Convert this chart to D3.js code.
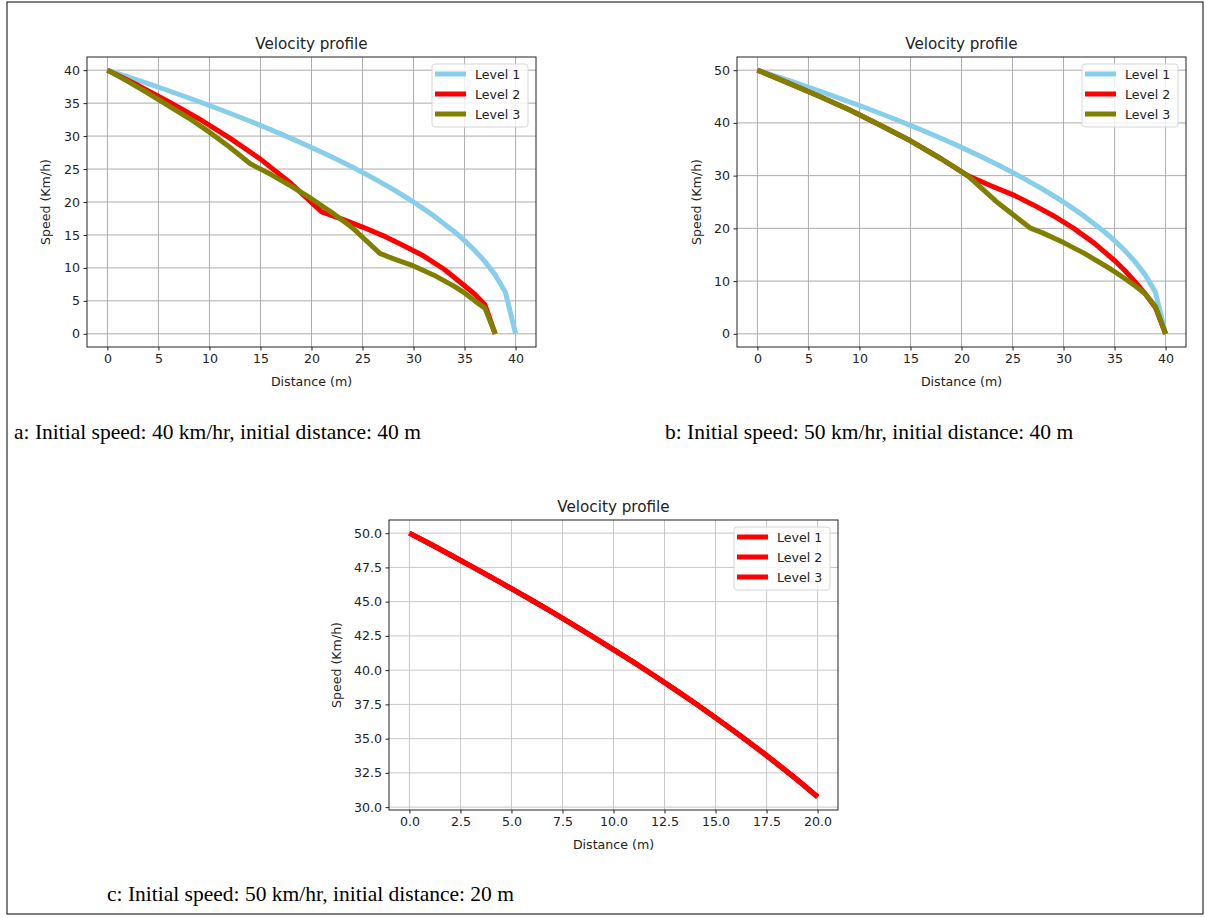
<!DOCTYPE html>
<html>
<head>
<meta charset="utf-8">
<script src="https://cdn.jsdelivr.net/npm/d3@7"></script>
<style>
  body { margin: 0; background: #fff; }
  svg { display: block; }
  text { font-family: "DejaVu Sans", sans-serif; fill: #222; }
  .caption { font-family: "Liberation Serif", "Times New Roman", serif; fill: #000; }
</style>
</head>
<body>
<svg width="1206" height="918"></svg>
<script>
// ---- data ----
let levelNames = ["Level 1", "Level 2", "Level 3"];

// a: 40 km/h, 40 m
let distA1 = [0, 2, 4, 6, 8, 10, 12, 14, 16, 18, 20, 22, 24, 26, 28, 30, 32, 34, 35, 36, 37, 38, 39, 40];
let speedA1 = [40, 38.99, 37.95, 36.88, 35.78, 34.64, 33.47, 32.25, 30.98, 29.66, 28.28, 26.83, 25.3, 23.66, 21.91, 20.0, 17.89, 15.49, 14.14, 12.65, 10.95, 8.94, 6.32, 0];
let distA2 = [0, 3, 6, 9, 12, 15, 18, 21, 23, 25, 27, 29, 31, 33, 35, 36, 37, 38];
let speedA2 = [40, 37.7, 35.2, 32.6, 29.7, 26.5, 22.8, 18.5, 17.4, 16.2, 14.9, 13.4, 11.8, 9.8, 7.3, 6.0, 4.4, 0];
let distA3 = [0, 2, 4, 6, 8, 10, 12, 14, 16, 18, 20, 22, 24, 26.7, 28, 30, 32, 34, 35, 36, 37, 38];
let speedA3 = [40, 38.3, 36.5, 34.6, 32.7, 30.6, 28.3, 25.8, 24.2, 22.4, 20.5, 18.4, 16.1, 12.2, 11.4, 10.3, 8.9, 7.2, 6.2, 5.0, 3.9, 0];

// b: 50 km/h, 40 m
let distB1 = [0, 2, 4, 6, 8, 10, 12, 14, 16, 18, 20, 22, 24, 26, 28, 30, 32, 34, 35, 36, 37, 38, 39, 40];
let speedB1 = [50, 48.73, 47.43, 46.1, 44.72, 43.3, 41.83, 40.31, 38.73, 37.08, 35.36, 33.54, 31.62, 29.58, 27.39, 25.0, 22.36, 19.36, 17.68, 15.81, 13.69, 11.18, 7.91, 0];
let distB2 = [0, 3, 6, 9, 12, 15, 18, 20.6, 23, 25, 27, 29, 31, 33, 35, 36, 37, 38, 39, 40];
let speedB2 = [50, 47.6, 45.1, 42.5, 39.6, 36.6, 33.2, 30.0, 28.0, 26.4, 24.5, 22.4, 20.0, 17.2, 13.9, 12.0, 9.9, 7.6, 5.0, 0];
let distB3 = [0, 3, 6, 9, 12, 15, 18, 20.6, 23.4, 26.7, 28, 30, 32, 34, 35, 36, 37, 38, 39, 40];
let speedB3 = [50, 47.6, 45.1, 42.5, 39.6, 36.6, 33.2, 30.0, 25.1, 20.1, 19.1, 17.3, 15.3, 13.0, 11.8, 10.5, 9.1, 7.6, 5.2, 0];

// c: 50 km/h, 20 m (all three levels coincide)
let distC = [0, 1, 2, 3, 4, 5, 6, 7, 8, 9, 10, 11, 12, 13, 14, 15, 16, 17, 18, 19, 20];
let speedC = [50.0, 49.22, 48.42, 47.61, 46.79, 45.95, 45.1, 44.23, 43.34, 42.43, 41.5, 40.56, 39.59, 38.6, 37.58, 36.53, 35.45, 34.34, 33.19, 32.0, 30.75];

let xTicksAB = [0, 5, 10, 15, 20, 25, 30, 35, 40];
let yTicksA = [0, 5, 10, 15, 20, 25, 30, 35, 40];
let yTicksB = [0, 10, 20, 30, 40, 50];
let xTicksC = [0, 2.5, 5, 7.5, 10, 12.5, 15, 17.5, 20];
let yTicksC = [30, 32.5, 35, 37.5, 40, 42.5, 45, 47.5, 50];

let captions = [
  "a: Initial speed: 40 km/hr, initial distance: 40 m",
  "b: Initial speed: 50 km/hr, initial distance: 40 m",
  "c: Initial speed: 50 km/hr, initial distance: 20 m"
];

function zip(xs, ys) {
  return xs.map((x, i) => ({x: x, y: ys[i]}));
}

let svg = d3.select("svg");

// figure frame
svg.append("rect")
  .attr("x", 7).attr("y", 2)
  .attr("width", 1196).attr("height", 912)
  .attr("fill", "none").attr("stroke", "#000").attr("stroke-width", 1);

DrawPanel({
  left: 87, top: 57, width: 449, height: 290,
  xDomain: [-2, 42], yDomain: [-2, 42],
  xTicks: xTicksAB, yTicks: yTicksA, fmt: d3.format("d"),
  ylabelX: 50, grid: "#adadad",
  series: [
    {data: zip(distA1, speedA1), color: "#87ceeb"},
    {data: zip(distA2, speedA2), color: "#ff0000"},
    {data: zip(distA3, speedA3), color: "#808000"}
  ]
});

DrawPanel({
  left: 737, top: 57, width: 449, height: 290,
  xDomain: [-2, 42], yDomain: [-2.5, 52.5],
  xTicks: xTicksAB, yTicks: yTicksB, fmt: d3.format("d"),
  ylabelX: 701, grid: "#adadad",
  series: [
    {data: zip(distB1, speedB1), color: "#87ceeb"},
    {data: zip(distB2, speedB2), color: "#ff0000"},
    {data: zip(distB3, speedB3), color: "#808000"}
  ]
});

DrawPanel({
  left: 389, top: 520, width: 449, height: 290,
  xDomain: [-1, 21], yDomain: [29.79, 50.96],
  xTicks: xTicksC, yTicks: yTicksC, fmt: d3.format(".1f"),
  ylabelX: 341, grid: "#c8c8c8",
  series: [
    {data: zip(distC, speedC), color: "#ff0000"},
    {data: zip(distC, speedC), color: "#ff0000"},
    {data: zip(distC, speedC), color: "#ff0000"}
  ]
});

svg.selectAll(".caption")
  .data(captions)
  .join("text")
  .attr("class", "caption")
  .attr("x", (d, i) => [14, 665, 107][i])
  .attr("y", (d, i) => [439, 439, 901][i])
  .style("font-size", "21.5px")
  .text(d => d);

function DrawPanel(p) {
  let x = d3.scaleLinear().domain(p.xDomain).range([p.left, p.left + p.width]);
  let y = d3.scaleLinear().domain(p.yDomain).range([p.top + p.height, p.top]);
  let g = svg.append("g");

  // grid
  g.selectAll(".gx").data(p.xTicks).join("line")
    .attr("x1", d => x(d)).attr("x2", d => x(d))
    .attr("y1", p.top).attr("y2", p.top + p.height)
    .attr("stroke", p.grid).attr("stroke-width", 1);
  g.selectAll(".gy").data(p.yTicks).join("line")
    .attr("class", "gy")
    .attr("x1", p.left).attr("x2", p.left + p.width)
    .attr("y1", d => y(d)).attr("y2", d => y(d))
    .attr("stroke", p.grid).attr("stroke-width", 1);

  // axes
  let xAxis = g.append("g")
    .attr("transform", `translate(0,${p.top + p.height})`)
    .call(d3.axisBottom(x).tickValues(p.xTicks).tickFormat(p.fmt).tickSize(3.5).tickPadding(3.5));
  let yAxis = g.append("g")
    .attr("transform", `translate(${p.left},0)`)
    .call(d3.axisLeft(y).tickValues(p.yTicks).tickFormat(p.fmt).tickSize(3.5).tickPadding(3.5));
  [xAxis, yAxis].forEach(a => {
    a.select(".domain").remove();
    a.selectAll("line").attr("stroke", "#222");
    a.selectAll("text").style("font-size", "12.6px").attr("fill", "#222")
      .style("font-family", "DejaVu Sans, sans-serif");
  });

  // lines
  let line = d3.line().x(d => x(d.x)).y(d => y(d.y));
  g.selectAll(".series").data(p.series).join("path")
    .attr("d", d => line(d.data))
    .attr("fill", "none")
    .attr("stroke", d => d.color)
    .attr("stroke-width", 5)
    .attr("stroke-linejoin", "round")
    .attr("stroke-linecap", "butt");

  // frame
  g.append("rect")
    .attr("x", p.left).attr("y", p.top)
    .attr("width", p.width).attr("height", p.height)
    .attr("fill", "none").attr("stroke", "#222").attr("stroke-width", 1);

  // labels
  g.append("text")
    .attr("x", p.left + p.width / 2).attr("y", p.top - 8)
    .attr("text-anchor", "middle")
    .style("font-size", "15.2px")
    .text("Velocity profile");
  g.append("text")
    .attr("x", p.left + p.width / 2).attr("y", p.top + p.height + 38.5)
    .attr("text-anchor", "middle")
    .style("font-size", "12.6px")
    .text("Distance (m)");
  g.append("text")
    .attr("transform", `translate(${p.ylabelX},${p.top + p.height / 2}) rotate(-90)`)
    .attr("text-anchor", "middle")
    .style("font-size", "12.6px")
    .text("Speed (Km/h)");

  // legend
  let lx = p.left + p.width - 104, ly = p.top + 7;
  let leg = g.append("g").attr("transform", `translate(${lx},${ly})`);
  leg.append("rect")
    .attr("width", 96).attr("height", 63).attr("rx", 3)
    .attr("fill", "#fff").attr("fill-opacity", 0.8)
    .attr("stroke", "#d6d6d6").attr("stroke-width", 1);
  let rows = leg.selectAll(".row").data(p.series).join("g")
    .attr("transform", (d, i) => `translate(0,${10 + i * 20})`);
  rows.append("line")
    .attr("x1", 3).attr("x2", 34)
    .attr("stroke", d => d.color).attr("stroke-width", 5);
  rows.append("text")
    .attr("x", 43).attr("y", 4.5)
    .style("font-size", "12.6px")
    .text((d, i) => levelNames[i]);
}
</script>
</body>
</html>
